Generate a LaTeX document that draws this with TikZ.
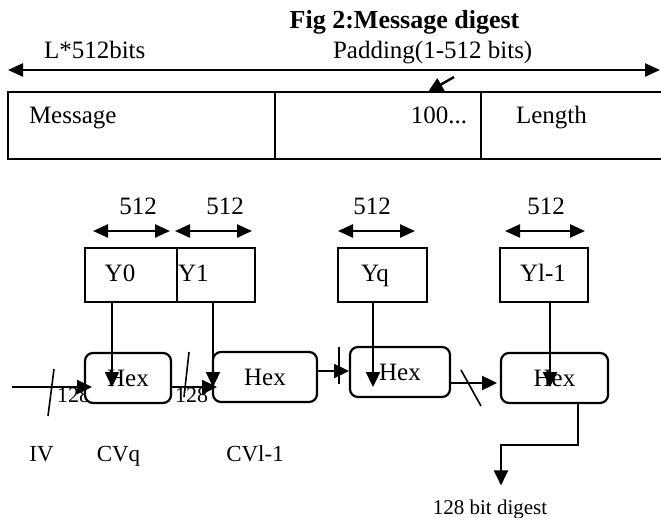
\documentclass[tikz,border=0pt]{standalone}
\usepackage{fontspec}
\setmainfont{Liberation Serif}
\usetikzlibrary{arrows.meta, positioning}

\begin{document}
\begin{tikzpicture}[x=1pt, y=-1pt,
    every node/.style={font=\fontsize{25}{30}\selectfont, inner sep=0pt, outer sep=0pt},
    cell/.style={draw, line width=2.2pt, minimum height=67pt, anchor=north west},
    ybox/.style={draw, line width=2.2pt, minimum height=54pt, anchor=north west},
    hexbox/.style={draw, fill=white, line width=2.2pt, rounded corners=8pt,
                   minimum height=50pt, anchor=north west},
    lbl/.style={font=\fontsize{22}{26}\selectfont},
    arr/.style={-{Triangle[length=15pt,width=14pt]}, line width=2.4pt},
    dblarr/.style={{Triangle[length=15pt,width=13pt]}-{Triangle[length=15pt,width=13pt]}, line width=2.4pt},
    slash/.style={line width=1.6pt},
]
\useasboundingbox (0,0) rectangle (661,518);
\clip (0,0) rectangle (661,518);

%% ── Title and padded message ─────────────────────────────────────────────────
\node[anchor=base, font=\fontsize{26}{30}\selectfont\bfseries]
  (title) at (404.5,29) {Fig 2:Message digest};
\node[anchor=base west] (lenlabel) at (44,59) {L*512bits};
\node[anchor=base west] (padlabel) at (333,59) {Padding(1-512 bits)};

\coordinate (lenl) at (8,70);
\coordinate (lenr) at (660,70);
\coordinate (padfrom) at (454,77);

\node[cell, minimum width=267pt] (msgcell) at (8,92) {};
\node[cell, minimum width=206pt, right=0pt of msgcell] (padcell) {};
\node[cell, minimum width=200pt, right=0pt of padcell] (lencell) {};

\node[anchor=base west] (msgtxt) at (29,124) {Message};
\node[anchor=base east] (padtxt) at (467,124) {100...};
\node[anchor=base west] (lentxt) at (516,124) {Length};

\draw[dblarr] (lenl) -- (lenr);
\draw[arr] (padfrom) -- ([xshift=50pt]padcell.north);

%% ── 512-bit blocks ───────────────────────────────────────────────────────────
\node[anchor=base] (w0) at (138,215) {512};
\node[anchor=base] (w1) at (225,215) {512};
\node[anchor=base] (wq) at (372,215) {512};
\node[anchor=base] (wl) at (546,215) {512};

\draw[dblarr] (93,231) -- (170,231);
\draw[dblarr] (175,231) -- (252,231);
\draw[dblarr] (338,231) -- (415,231);
\draw[dblarr] (505,231) -- (585,231);

\node[ybox, minimum width=92pt] (y0cell) at (85,248) {};
\node[ybox, minimum width=78pt, right=0pt of y0cell] (y1cell) {};
\node[ybox, minimum width=89pt] (yqcell) at (338,248) {};
\node[ybox, minimum width=88pt] (ylcell) at (500,248) {};

\node[anchor=base] (y0txt) at (120,282) {Y0};
\node[anchor=base west] (y1txt) at (178,282) {Y1};
\node[anchor=base] (yqtxt) at (375,282) {Yq};
\node[anchor=base] (yltxt) at (543,282) {Yl-1};

%% ── Compression chain ────────────────────────────────────────────────────────
\node[lbl, anchor=base west] (w128a) at (57,402) {128};
\node[lbl, anchor=base west] (w128b) at (175,402) {128};

\node[hexbox, minimum width=86pt] (hex1) at (85,353) {Hex};
\node[hexbox, minimum width=104pt] (hex2) at (213,352) {Hex};
\node[hexbox, minimum width=100pt] (hex3) at (350,347) {Hex};
\node[hexbox, minimum width=107pt] (hex4) at (501,353) {Hex};

\coordinate (ivin) at (12,387);
\draw[arr] (ivin) -- ([xshift=7pt]hex1.west |- ivin);
\draw[arr] ([yshift=-9pt]hex1.east) -- ([xshift=4pt,yshift=-10pt]hex2.west);
\draw[arr] ([yshift=6pt]hex2.east) -- ([xshift=-1pt,yshift=1pt]hex3.west);
\draw[arr] ([yshift=-11pt]hex3.east) -- ([xshift=-4pt,yshift=-5pt]hex4.west);

\draw[slash] (54,369) -- (48,416);
\draw[slash] (189,352) -- (184,397);
\draw[slash] (339,347) -- (339,384);
\draw[slash] (461,370) -- (481,406);

\draw[arr] ([xshift=-19pt]y0cell.south) -- ([xshift=-16pt,yshift=-9pt]hex1.center);
\draw[arr] ([xshift=-3pt]y1cell.south) -- ([xshift=-52pt,yshift=-10pt]hex2.center);
\draw[arr] ([xshift=-9.5pt]yqcell.south) -- ([xshift=-27pt,yshift=-15pt]hex3.center);
\draw[arr] ([xshift=6pt]ylcell.south) -- ([xshift=-4.5pt,yshift=-9pt]hex4.center);

%% ── Chaining values and digest ───────────────────────────────────────────────
\node[lbl, anchor=base, font=\fontsize{23}{26}\selectfont] (ivtxt) at (41.5,461) {IV};
\node[lbl, anchor=base, font=\fontsize{23}{26}\selectfont] (cvq) at (118.5,461) {CVq};
\node[lbl, anchor=base, font=\fontsize{23}{26}\selectfont] (cvl) at (255,461) {CVl-1};
\node[lbl, anchor=base, font=\fontsize{21}{24}\selectfont] (digest) at (490,514) {128 bit digest};

\draw[arr] ([xshift=23.5pt]hex4.south) -- ++(0,42) -| ([xshift=11pt,yshift=14pt]digest.north);

\end{tikzpicture}
\end{document}
